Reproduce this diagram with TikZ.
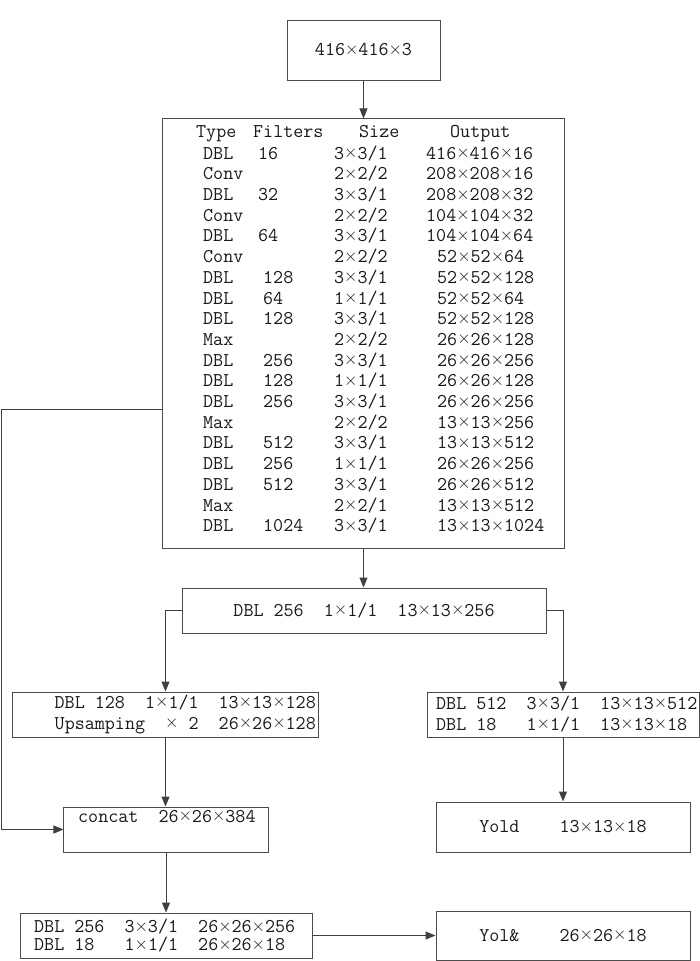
\documentclass[tikz,border=0pt]{standalone}
\usepackage{fontspec}
\usetikzlibrary{arrows.meta}
\newcommand\mX{\raisebox{1.5bp}{\fontsize{18bp}{21bp}\selectfont$\times$}}
\newcommand\mytabrow[7]{%
  \node[tt, anchor=mid west] (ty#1) at (203,{157+(#1-1)*20.7}) {#2};
  \node[tt, anchor=mid west] (fi#1) at (#3,{157+(#1-1)*20.7}) {#4};
  \node[tt, anchor=mid west] (si#1) at (334,{157+(#1-1)*20.7}) {#5};
  \node[tt, anchor=mid west] (ou#1) at (#6,{157+(#1-1)*20.7}) {#7};
}
\begin{document}
\begin{tikzpicture}[x=1bp,y=-1bp,
  every node/.style={font=\ttfamily\fontsize{19.5bp}{21bp}\selectfont, text=black!90},
  tt/.style={inner sep=0pt},
  box/.style={draw=black!70, line width=1bp, rectangle, inner sep=0pt},
  conn/.style={draw=black!75, line width=1bp, -{Triangle[length=10bp,width=8bp]}}]
\useasboundingbox (0,0) rectangle (700,961);

% boxes
\node[box, minimum width=153bp, minimum height=60bp] (in) at (363.5,50) {416\mX416\mX3};
\node[box, minimum width=401bp, minimum height=429bp] (tab) at (363.5,333.5) {};
\node[box, minimum width=364bp, minimum height=45bp] (d256) at (364,610.5) {DBL~256~~1\mX1/1~~13\mX13\mX256};
\node[box, minimum width=305bp, minimum height=45bp] (up) at (165.5,714.5) {};
\node[box, minimum width=272bp, minimum height=45bp] (r1) at (563,714.5) {};
\node[box, minimum width=204bp, minimum height=45bp] (concat) at (166,829.5) {};
\node[box, minimum width=254bp, minimum height=50bp] (yold) at (563,827) {Yold~~~~13\mX13\mX18};
\node[box, minimum width=291bp, minimum height=45bp] (bl) at (166.5,935.5) {};
\node[box, minimum width=254bp, minimum height=49bp] (yol2) at (563,935.5) {Yol\&~~~~26\mX26\mX18};

% table header
\node[tt, anchor=mid west] (hType) at (196,135) {Type};
\node[tt, anchor=mid west] (hFilt) at (253,135) {Filters};
\node[tt, anchor=mid west] (hSize) at (359,135) {Size};
\node[tt, anchor=mid west] (hOut) at (450,135) {Output};

% table rows
\mytabrow{1}{DBL}{258}{16}{3\mX3/1}{426}{416\mX416\mX16}
\mytabrow{2}{Conv}{258}{}{2\mX2/2}{426}{208\mX208\mX16}
\mytabrow{3}{DBL}{258}{32}{3\mX3/1}{426}{208\mX208\mX32}
\mytabrow{4}{Conv}{258}{}{2\mX2/2}{426}{104\mX104\mX32}
\mytabrow{5}{DBL}{258}{64}{3\mX3/1}{426}{104\mX104\mX64}
\mytabrow{6}{Conv}{263}{}{2\mX2/2}{437}{52\mX52\mX64}
\mytabrow{7}{DBL}{263}{128}{3\mX3/1}{437}{52\mX52\mX128}
\mytabrow{8}{DBL}{263}{64}{1\mX1/1}{437}{52\mX52\mX64}
\mytabrow{9}{DBL}{263}{128}{3\mX3/1}{437}{52\mX52\mX128}
\mytabrow{10}{Max}{263}{}{2\mX2/2}{437}{26\mX26\mX128}
\mytabrow{11}{DBL}{263}{256}{3\mX3/1}{437}{26\mX26\mX256}
\mytabrow{12}{DBL}{263}{128}{1\mX1/1}{437}{26\mX26\mX128}
\mytabrow{13}{DBL}{263}{256}{3\mX3/1}{437}{26\mX26\mX256}
\mytabrow{14}{Max}{263}{}{2\mX2/2}{437}{13\mX13\mX256}
\mytabrow{15}{DBL}{263}{512}{3\mX3/1}{437}{13\mX13\mX512}
\mytabrow{16}{DBL}{263}{256}{1\mX1/1}{437}{26\mX26\mX256}
\mytabrow{17}{DBL}{263}{512}{3\mX3/1}{437}{26\mX26\mX512}
\mytabrow{18}{Max}{263}{}{2\mX2/1}{437}{13\mX13\mX512}
\mytabrow{19}{DBL}{263}{1024}{3\mX3/1}{437}{13\mX13\mX1024}

% texts in other boxes
\node[tt, anchor=east, align=right] (upT) at (316,714) {DBL~128~~1\mX1/1~~13\mX13\mX128\\Upsamping~~\mX~2~~26\mX26\mX128};
\node[tt, anchor=west, align=left] (r1T) at (436,714) {DBL~512~~3\mX3/1~~13\mX13\mX512\\DBL~18~~~1\mX1/1~~13\mX13\mX18};
\node[tt, anchor=mid west] (concatT) at (78,820) {concat~~26\mX26\mX384};
\node[tt, anchor=west, align=left] (blT) at (34,936) {DBL~256~~3\mX3/1~~26\mX26\mX256\\[-3bp]DBL~18~~~1\mX1/1~~26\mX26\mX18};

% connectors
\coordinate (fb) at (1,409);
\draw[conn] (in.south) -- (tab.north);
\draw[conn] (tab.south) -- (tab.south |- d256.north);
\draw[conn] (d256.west) -| (up.north);
\draw[conn] (d256.east) -| (r1.north);
\draw[conn] (up.south) -- (up.south |- concat.north);
\draw[conn] (r1.south) -- (yold.north);
\draw[conn] (concat.south) -- (concat.south |- bl.north);
\draw[conn] (bl.east) -- (yol2.west);
\draw[conn] (fb -| tab.west) -- (fb) |- (concat.west);
\end{tikzpicture}
\end{document}
